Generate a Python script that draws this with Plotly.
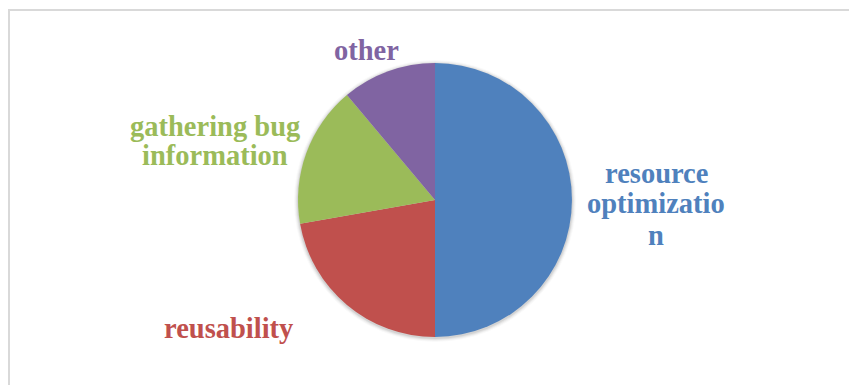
import plotly.graph_objects as go

# Share of reported motivations
categories = ["resource optimization", "reusability", "gathering bug information", "other"]
counts = [9, 4, 3, 2]
colors = ["#4F81BD", "#C0504D", "#9BBB59", "#8064A2"]
# Label lines as wrapped in the chart, label centre (pixels) and line pitch
label_lines = [["resource", "optimizatio", "n"], ["reusability"], ["gathering bug", "information"], ["other"]]
label_pos = [(656, 204), (229, 328), (215, 141), (366, 51)]
line_pitch = [31, 30, 29, 30]

W, H = 849, 385
cx, cy, r = 435, 200, 137

fig = go.Figure(go.Pie(
    labels=categories,
    values=counts,
    marker=dict(colors=colors, line=dict(width=0)),
    sort=False,
    direction="clockwise",
    rotation=0,
    textinfo="none",
    hoverinfo="label+percent",
    showlegend=False,
    domain=dict(x=[(cx - r) / W, (cx + r) / W], y=[(H - cy - r) / H, (H - cy + r) / H]),
))

# soft shadow behind the pie
for k, a in [(4, 0.025), (3, 0.035), (2, 0.05), (1, 0.07)]:
    fig.add_shape(type="circle", xref="paper", yref="paper", layer="below",
                  x0=(cx - r - k) / W, x1=(cx + r + k) / W,
                  y0=(H - cy - r - k - 1) / H, y1=(H - cy + r + k - 1) / H,
                  line=dict(width=0), fillcolor=f"rgba(0,0,0,{a})")

# slice labels, one annotation per wrapped line
for lines, (px, py), pitch, col in zip(label_lines, label_pos, line_pitch, colors):
    n = len(lines)
    for i, ln in enumerate(lines):
        y = py + (i - (n - 1) / 2) * pitch
        fig.add_annotation(
            x=px / W, y=1 - y / H, xref="paper", yref="paper",
            text="<b>" + ln + "</b>", showarrow=False,
            xanchor="center", yanchor="middle",
            font=dict(family="Liberation Serif", size=28.5, color=col),
        )

# chart-area border
fig.add_shape(type="rect", xref="paper", yref="paper",
              x0=9 / W, x1=1.02, y0=-0.02, y1=1 - 10 / H,
              line=dict(color="#d9d9d9", width=2), fillcolor="rgba(0,0,0,0)")

fig.update_layout(
    width=W, height=H,
    margin=dict(l=0, r=0, t=0, b=0),
    paper_bgcolor="white", plot_bgcolor="white",
)

fig.write_html("out.html")
